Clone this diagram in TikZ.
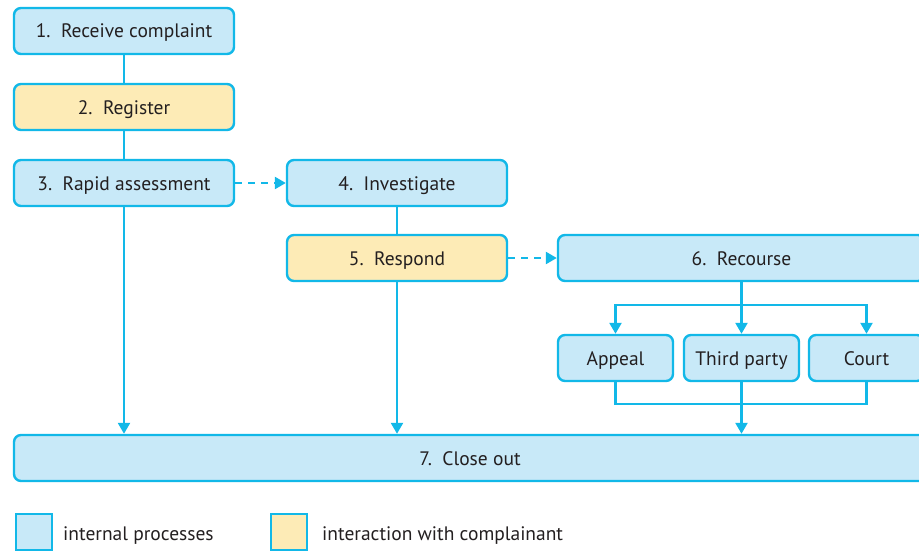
\documentclass[tikz,border=0pt]{standalone}
\usepackage{fontspec}
\setmainfont{PT Sans}
\usetikzlibrary{arrows.meta}
\definecolor{cline}{HTML}{12B8E8}
\definecolor{cblue}{HTML}{C8E9F8}
\definecolor{cyel}{HTML}{FDEBB6}
\definecolor{ctext}{HTML}{231F20}
\tikzset{
  box/.style={draw=cline, line width=2.4pt, rounded corners=7pt, fill=cblue,
    minimum height=46pt, inner sep=0pt, text height=14pt, text depth=0pt,
    font=\fontsize{19.5}{22}\selectfont, text=ctext},
  ybox/.style={box, fill=cyel},
  conn/.style={draw=cline, line width=2.4pt},
  arr/.style={conn, -{Triangle[length=11pt,width=12pt]}},
  darr/.style={arr, dash pattern=on 7pt off 6pt},
  legsq/.style={draw=cline, line width=2.4pt, minimum width=36pt, minimum height=36pt, inner sep=0pt},
  legtxt/.style={anchor=west, inner sep=0pt, text height=14pt, text depth=0pt,
    font=\fontsize{19.5}{22}\selectfont, text=ctext}
}
\begin{document}
\begin{tikzpicture}[x=1pt,y=-1pt]
\useasboundingbox (0,0) rectangle (919,551);
\node[box, minimum width=220pt] (n1) at (124,31) {1.\ \ Receive complaint};
\node[ybox, minimum width=220pt] (n2) at (124,107) {2.\ \ Register};
\node[box, minimum width=220pt] (n3) at (124,183) {3.\ \ Rapid assessment};
\node[box, minimum width=220pt] (n4) at (397,183) {4.\ \ Investigate};
\node[ybox, minimum width=220pt] (n5) at (397,258) {5.\ \ Respond};
\node[box, minimum width=367pt] (n6) at (741.5,258) {6.\ \ Recourse};
\node[box, minimum width=115pt] (ap) at (615.5,358) {Appeal};
\node[box, minimum width=115pt] (tp) at (741.5,358) {Third party};
\node[box, minimum width=115pt] (ct) at (866.5,358) {Court};
\node[box, minimum width=912pt] (n7) at (470,458) {7.\ \ Close out};

\draw[conn] (n1) -- (n2);
\draw[conn] (n2) -- (n3);
\draw[conn] (n4) -- (n5);
\draw[darr] (n3) -- (n4);
\draw[darr] (n5) -- (n6);
\draw[arr] (n3.south) -- (n3.south |- n7.north);
\draw[arr] (n5.south) -- (n5.south |- n7.north);

\coordinate (sp) at (741.5,305);
\draw[conn] (n6.south -| sp) -- (sp);
\draw[arr] (sp) -- (tp.north);
\draw[arr] (sp) -| (ap.north);
\draw[arr] (sp) -| (ct.north);

\coordinate (jn) at (741.5,404);
\draw[conn] (ap.south) |- (jn);
\draw[conn] (ct.south) |- (jn);
\draw[arr] (tp.south) -- (tp.south |- n7.north);

\node[legsq, fill=cblue] (l1) at (34,532) {};
\node[legtxt] (t1) at (63,533) {internal processes};
\node[legsq, fill=cyel] (l2) at (289,532) {};
\node[legtxt] (t2) at (322,533) {interaction with complainant};
\end{tikzpicture}
\end{document}
